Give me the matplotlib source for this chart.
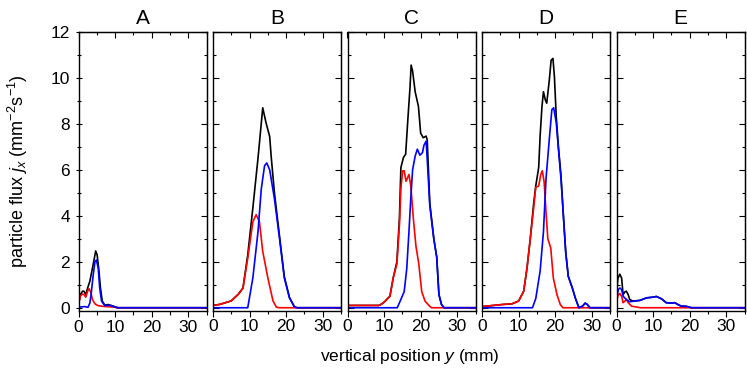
import matplotlib
matplotlib.use("Agg")
import matplotlib.pyplot as plt
from matplotlib.ticker import MultipleLocator

plt.rcParams['font.family'] = ['Liberation Sans', 'DejaVu Sans']
plt.rcParams['mathtext.fontset'] = 'custom'
plt.rcParams['mathtext.rm'] = 'Liberation Sans'
plt.rcParams['mathtext.it'] = 'Liberation Sans:italic'

panels = ['A', 'B', 'C', 'D', 'E']

# panel A
xA_black = [0, 0.5, 1.1, 1.5, 2, 2.5, 3.1, 4, 4.7, 5.1, 5.6, 6, 6.5, 7.2, 8.1, 9.5, 10.8, 35]
yA_black = [0.14, 0.57, 0.72, 0.72, 0.57, 0.86, 1.15, 1.87, 2.47, 2.3, 1.58, 0.86, 0.29, 0.11, 0.14, 0.07, 0, 0]
xA_red = [0, 0.5, 1.1, 1.5, 2, 2.5, 2.9, 3.4, 3.8, 4.5, 5.4, 6.7, 9.5, 10.5, 35]
yA_red = [0.14, 0.5, 0.6, 0.57, 0.46, 0.72, 0.83, 0.65, 0.36, 0.17, 0.09, 0.06, 0.03, 0, 0]
xA_blue = [0, 0.4, 1.7, 2.6, 3.1, 3.5, 4, 4.5, 4.9, 5.4, 5.8, 6.3, 7.2, 8.1, 9, 9.9, 10.8, 35]
yA_blue = [0, 0.03, 0.05, 0.02, 0.2, 0.65, 1.4, 2.0, 2.08, 1.72, 0.86, 0.29, 0.09, 0.11, 0.09, 0.03, 0, 0]

# panel B
xB_black = [0, 2, 5, 7, 8.2, 9.5, 10.9, 12.3, 13.6, 14.5, 15.5, 15.9, 16.8, 18.2, 19.5, 20.9, 22.3, 23, 35]
yB_black = [0.1, 0.15, 0.3, 0.6, 0.86, 2.3, 4.35, 6.5, 8.7, 8.05, 7.45, 6.6, 5.0, 3.1, 1.35, 0.45, 0.03, 0, 0]
xB_red = [0, 2, 5, 7, 8.2, 9.5, 10.9, 11.8, 12.7, 13.6, 15, 16.4, 17.3, 18, 35]
yB_red = [0.1, 0.15, 0.3, 0.6, 0.86, 2.15, 3.74, 4.05, 3.74, 2.45, 1.3, 0.3, 0.03, 0, 0]
xB_blue = [0, 9.5, 10.9, 12.3, 13.2, 14.1, 14.7, 15.5, 16.8, 18.2, 19.5, 20.9, 22.3, 23, 35]
yB_blue = [0, 0, 1.3, 3.3, 5.17, 6.18, 6.3, 6.0, 4.74, 3.0, 1.3, 0.43, 0.03, 0, 0]

# panel C
xC_black = [0, 8.5, 8.9, 9.8, 11.6, 12.5, 13.5, 14.2, 14.6, 15.3, 15.9, 16.5, 17.1, 17.4, 17.8, 18.5,
            19.4, 20, 20.7, 21.5, 21.8, 22.5, 23.6, 24.4, 25, 25.7, 26.4, 35]
yC_black = [0.1, 0.1, 0.12, 0.21, 0.5, 1.3, 2.0, 3.9, 6.1, 6.54, 6.68, 8.19, 9.6, 10.56, 10.3, 9.4,
            8.76, 7.6, 7.4, 7.47, 7.3, 4.55, 3.0, 2.2, 0.57, 0.14, 0, 0]
xC_red = [0, 8.5, 8.9, 9.8, 11.6, 12.5, 13.5, 14.2, 14.6, 15.1, 15.5, 16, 16.8, 17.3, 18, 18.7,
          19.5, 20.3, 21.2, 22.5, 23, 35]
yC_red = [0.1, 0.1, 0.12, 0.21, 0.5, 1.3, 1.9, 3.6, 5.2, 5.96, 5.96, 5.5, 5.8, 5.3, 3.9, 2.7,
          1.9, 0.7, 0.29, 0.06, 0, 0]
xC_blue = [0, 13.6, 14.4, 15.5, 16.2, 16.8, 17.3, 17.8, 18.5, 19.1, 19.8, 20.5, 20.9, 21.5, 21.9,
           22.5, 23.6, 24.4, 25, 25.7, 26.4, 35]
yC_blue = [0, 0, 0.29, 0.7, 1.7, 3.3, 4.75, 6.0, 6.6, 6.9, 6.64, 6.75, 7.07, 7.25, 6.18,
           4.46, 3.0, 2.2, 0.57, 0.14, 0, 0]

# panel D
xD_black = [0, 5.5, 8.2, 10, 11.4, 12.3, 13.2, 14.1, 14.7, 15.5, 15.9, 16.4, 16.8, 17.3, 17.7, 18.4,
            18.9, 19.4, 19.8, 20.3, 20.9, 21.6, 22.3, 22.9, 23.6, 24.7, 25.5, 26.5, 27.5, 28.2,
            28.8, 29.5, 35]
yD_black = [0.05, 0.14, 0.17, 0.29, 0.72, 1.72, 3.0, 4.5, 5.3, 6.1, 7.5, 8.76, 9.4, 9.05, 8.9, 9.9,
            10.77, 10.85, 10.06, 8.33, 7.0, 5.75, 3.9, 2.4, 1.36, 0.86, 0.43, 0, 0.07, 0.2,
            0.14, 0, 0]
xD_red = [0, 5.5, 8.2, 10, 11.4, 12.3, 13.2, 14.1, 14.7, 15.5, 16.1, 16.5, 17, 17.5, 18, 18.8,
          19.5, 20.5, 21.4, 22.1, 35]
yD_red = [0.05, 0.14, 0.17, 0.29, 0.72, 1.72, 3.0, 4.3, 5.24, 5.3, 5.82, 5.96, 5.46, 4.17, 3.0, 2.6,
          1.3, 0.57, 0.14, 0, 0]
xD_blue = [0, 13.8, 14.7, 15.9, 16.8, 17.5, 18.4, 19.1, 19.6, 20.3, 20.9, 21.6, 22.3, 22.9, 23.6,
           24.7, 25.5, 26.5, 27.5, 28.2, 28.8, 29.5, 35]
yD_blue = [0, 0, 0.4, 1.6, 3.3, 5.6, 7.33, 8.62, 8.7, 8.05, 6.9, 5.6, 3.88, 2.4, 1.36,
           0.86, 0.43, 0, 0.07, 0.2, 0.14, 0, 0]

# panel E
xE_black = [0, 0.4, 0.9, 1.4, 1.8, 2.3, 2.7, 3.2, 3.6, 4.5, 6.4, 8.2, 10, 10.9, 12.3, 13.6, 15,
            15.9, 16.8, 17.7, 19.1, 20.5, 35]
yE_black = [0.72, 1.29, 1.46, 1.29, 0.57, 0.69, 0.72, 0.57, 0.36, 0.29, 0.32, 0.43, 0.46, 0.49,
            0.39, 0.22, 0.2, 0.22, 0.14, 0.07, 0.06, 0, 0]
xE_red = [0, 0.5, 0.9, 1.4, 1.8, 2.3, 2.7, 3.2, 4.1, 5.5, 6.5, 35]
yE_red = [0.29, 0.57, 0.62, 0.5, 0.22, 0.29, 0.36, 0.22, 0.07, 0.03, 0, 0]
xE_blue = [0, 0.5, 0.9, 1.4, 1.8, 2.7, 3.6, 5, 6.4, 8.2, 10, 10.9, 12.3, 13.6, 15, 15.9, 16.8,
           17.7, 19.1, 20.5, 35]
yE_blue = [0.43, 0.79, 0.86, 0.79, 0.5, 0.36, 0.26, 0.29, 0.32, 0.43, 0.46, 0.49, 0.39, 0.22,
           0.2, 0.22, 0.14, 0.07, 0.06, 0, 0]

black_x = [xA_black, xB_black, xC_black, xD_black, xE_black]
black_y = [yA_black, yB_black, yC_black, yD_black, yE_black]
red_x = [xA_red, xB_red, xC_red, xD_red, xE_red]
red_y = [yA_red, yB_red, yC_red, yD_red, yE_red]
blue_x = [xA_blue, xB_blue, xC_blue, xD_blue, xE_blue]
blue_y = [yA_blue, yB_blue, yC_blue, yD_blue, yE_blue]

fig = plt.figure(figsize=(7.47, 3.74), dpi=100)
W, H = 747.0, 374.0
left0, width, step = 78.5, 128.0, 134.5
top, bottom = 32.0, 310.5


def set_locators(axis_x, axis_y):
    if axis_x is not None:
        axis_x.set_major_locator(MultipleLocator(10))
        axis_x.set_minor_locator(MultipleLocator(5))
    if axis_y is not None:
        axis_y.set_major_locator(MultipleLocator(2))
        axis_y.set_minor_locator(MultipleLocator(1))


for i, name in enumerate(panels):
    l = left0 + i * step
    ax = fig.add_axes([l / W, 1 - bottom / H, width / W, (bottom - top) / H])
    ax.plot(black_x[i], black_y[i], color='black', lw=1.2)
    ax.plot(red_x[i], red_y[i], color='#ff0000', lw=1.2)
    ax.plot(blue_x[i], blue_y[i], color='#0000ff', lw=1.2)
    ax.set_xlim(0, 35)
    ax.set_ylim(-0.12, 12)
    set_locators(ax.xaxis, ax.yaxis)

    # bottom ticks point out, left ticks cross on the first panel only
    ax.tick_params(axis='x', which='both', direction='out', top=False, labelsize=12.5, pad=2)
    ax.tick_params(axis='y', which='both', direction='inout' if i == 0 else 'in',
                   right=False, labelsize=12.5, pad=4)
    ax.tick_params(which='major', length=4.5 if i == 0 else 4, width=0.8)
    ax.tick_params(which='minor', length=3 if i == 0 else 2.5, width=0.8)
    if i > 0:
        ax.tick_params(labelleft=False)

    # top and right ticks point in
    sx = ax.secondary_xaxis('top')
    set_locators(sx.xaxis, None)
    sx.tick_params(which='both', direction='in', labeltop=False, width=0.8)
    sx.tick_params(which='major', length=4)
    sx.tick_params(which='minor', length=2.5)
    sy = ax.secondary_yaxis('right')
    set_locators(None, sy.yaxis)
    sy.tick_params(which='both', direction='in', labelright=False, width=0.8)
    sy.tick_params(which='major', length=4)
    sy.tick_params(which='minor', length=2.5)

    ax.set_title(name, fontsize=15, pad=6)
    for s in ax.spines.values():
        s.set_linewidth(1.0)

fig.text(410 / W, 1 - 356 / H, r'vertical position $y$ (mm)', ha='center', va='center', fontsize=12.5)
fig.text(18 / W, 1 - 171 / H, r'particle flux $j_x$ (mm$^{-2}$s$^{-1}$)', ha='center', va='center',
         rotation=90, fontsize=13)

fig.savefig('out.png', dpi=100)
